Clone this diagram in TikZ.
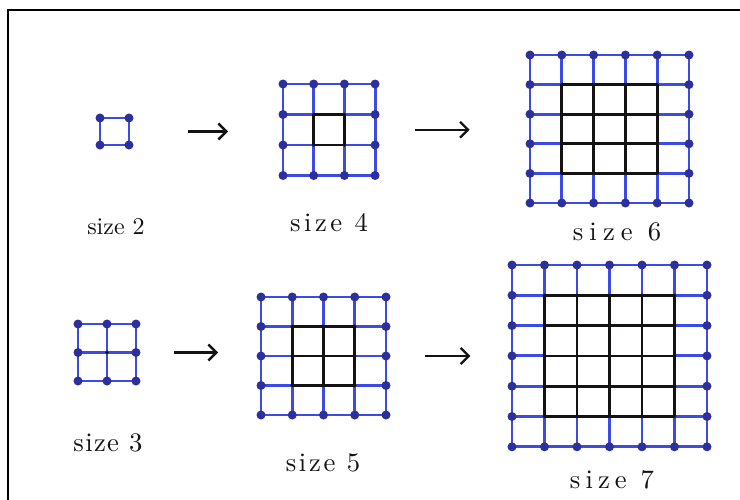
\documentclass[tikz,border=0pt]{standalone}
\usepackage{fontspec}
\usetikzlibrary{arrows.meta,fit}
\newfontfamily\handfont{lmroman10-regular.otf}
\definecolor{penBlue}{HTML}{3B4BE3}
\definecolor{dotBlue}{HTML}{2D2F9A}
\definecolor{ink}{HTML}{141212}

% #1 name, #2/#3 top-left point, #4 points per side, #5/#6 cell width/height
\newcommand{\sqgrid}[6]{%
  \pgfmathtruncatemacro{\gm}{#4-1}
  \pgfmathtruncatemacro{\gi}{#4-2}
  % blue outer ring of cells
  \foreach \i in {0,...,\gm} {
    \pgfmathtruncatemacro{\inner}{(\i>0)&&(\i<\gm)&&(\gi>1)}
    \ifnum\inner=1
      \draw[blueline] (#2+\i*#5,#3) -- (#2+\i*#5,#3+#6)
                      (#2+\i*#5,#3+\gi*#6) -- (#2+\i*#5,#3+\gm*#6);
      \draw[blueline] (#2,#3+\i*#6) -- (#2+#5,#3+\i*#6)
                      (#2+\gi*#5,#3+\i*#6) -- (#2+\gm*#5,#3+\i*#6);
    \else
      \draw[blueline] (#2+\i*#5,#3) -- (#2+\i*#5,#3+\gm*#6);
      \draw[blueline] (#2,#3+\i*#6) -- (#2+\gm*#5,#3+\i*#6);
    \fi
  }
  % black inner block
  \ifnum\gi>1
    \foreach \i in {1,...,\gi} {
      \draw[inkline] (#2+\i*#5,#3+#6) -- (#2+\i*#5,#3+\gi*#6);
      \draw[inkline] (#2+#5,#3+\i*#6) -- (#2+\gi*#5,#3+\i*#6);
    }
  \fi
  \foreach \i in {0,...,\gm} \foreach \j in {0,...,\gm} {
    \pgfmathtruncatemacro{\onedge}{(\i==0)||(\j==0)||(\i==\gm)||(\j==\gm)}
    \ifnum\onedge=1
      \fill[dotBlue] (#2+\i*#5,#3+\j*#6) circle[radius=4.5];
    \else
      \fill[ink] (#2+\i*#5,#3+\j*#6) circle[radius=1.8];
    \fi
  }
  \node[inner sep=0,fit={(#2,#3) (#2+\gm*#5,#3+\gm*#6)}] (#1) {};
}

\begin{document}
\begin{tikzpicture}[x=0.75pt,y=-0.75pt,
    blueline/.style={draw=penBlue,line width=2.2pt,line cap=round},
    inkline/.style={draw=ink,line width=2.1pt,line cap=round},
    arr/.style={draw=ink,line width=1.8pt,-{Straight Barb[length=6pt,width=12pt]}},
    lbl/.style={text=ink,font=\handfont\fontsize{20}{24}\selectfont\addfontfeatures{LetterSpace=#1}},
    lbl/.default=0]
  \useasboundingbox (0,0) rectangle (740,500);
  \fill[white] (0,0) rectangle (740,500);
  \draw[line width=1.5pt] (8,500) -- (8,10) -- (740,10);

  % top row
  \sqgrid{g2}{100}{118}{2}{29}{27}
  \sqgrid{g4}{283}{84}{4}{30.7}{30.5}
  \sqgrid{g6}{530}{55}{6}{31.8}{29.6}
  % bottom row
  \sqgrid{g3}{78}{324}{3}{29}{28.5}
  \sqgrid{g5}{261}{297}{5}{31.25}{29.5}
  \sqgrid{g7}{512}{265}{7}{32.5}{30.3}

  \draw[arr,shorten <=44pt,shorten >=41pt] (g2.east) -- (g2.east -| g4.west);
  \draw[arr,shorten <=30pt,shorten >=45pt] (g4.east) -- (g4.east -| g6.west);
  \draw[arr,shorten <=28pt,shorten >=32pt] (g3.east) -- (g3.east -| g5.west);
  \draw[arr,shorten <=29pt,shorten >=31pt] (g5.east) -- (g5.east -| g7.west);

  \node[lbl,font=\handfont\fontsize{18}{22}\selectfont] (l2) at (116,227) {size 2};
  \node[lbl=13] (l4) at (329,223) {size 4};
  \node[lbl=23] (l6) at (617,232) {size 6};
  \node[lbl=5] (l3) at (108,443) {size 3};
  \node[lbl=10] (l5) at (323,463) {size 5};
  \node[lbl=19] (l7) at (612,480) {size 7};
\end{tikzpicture}
\end{document}
